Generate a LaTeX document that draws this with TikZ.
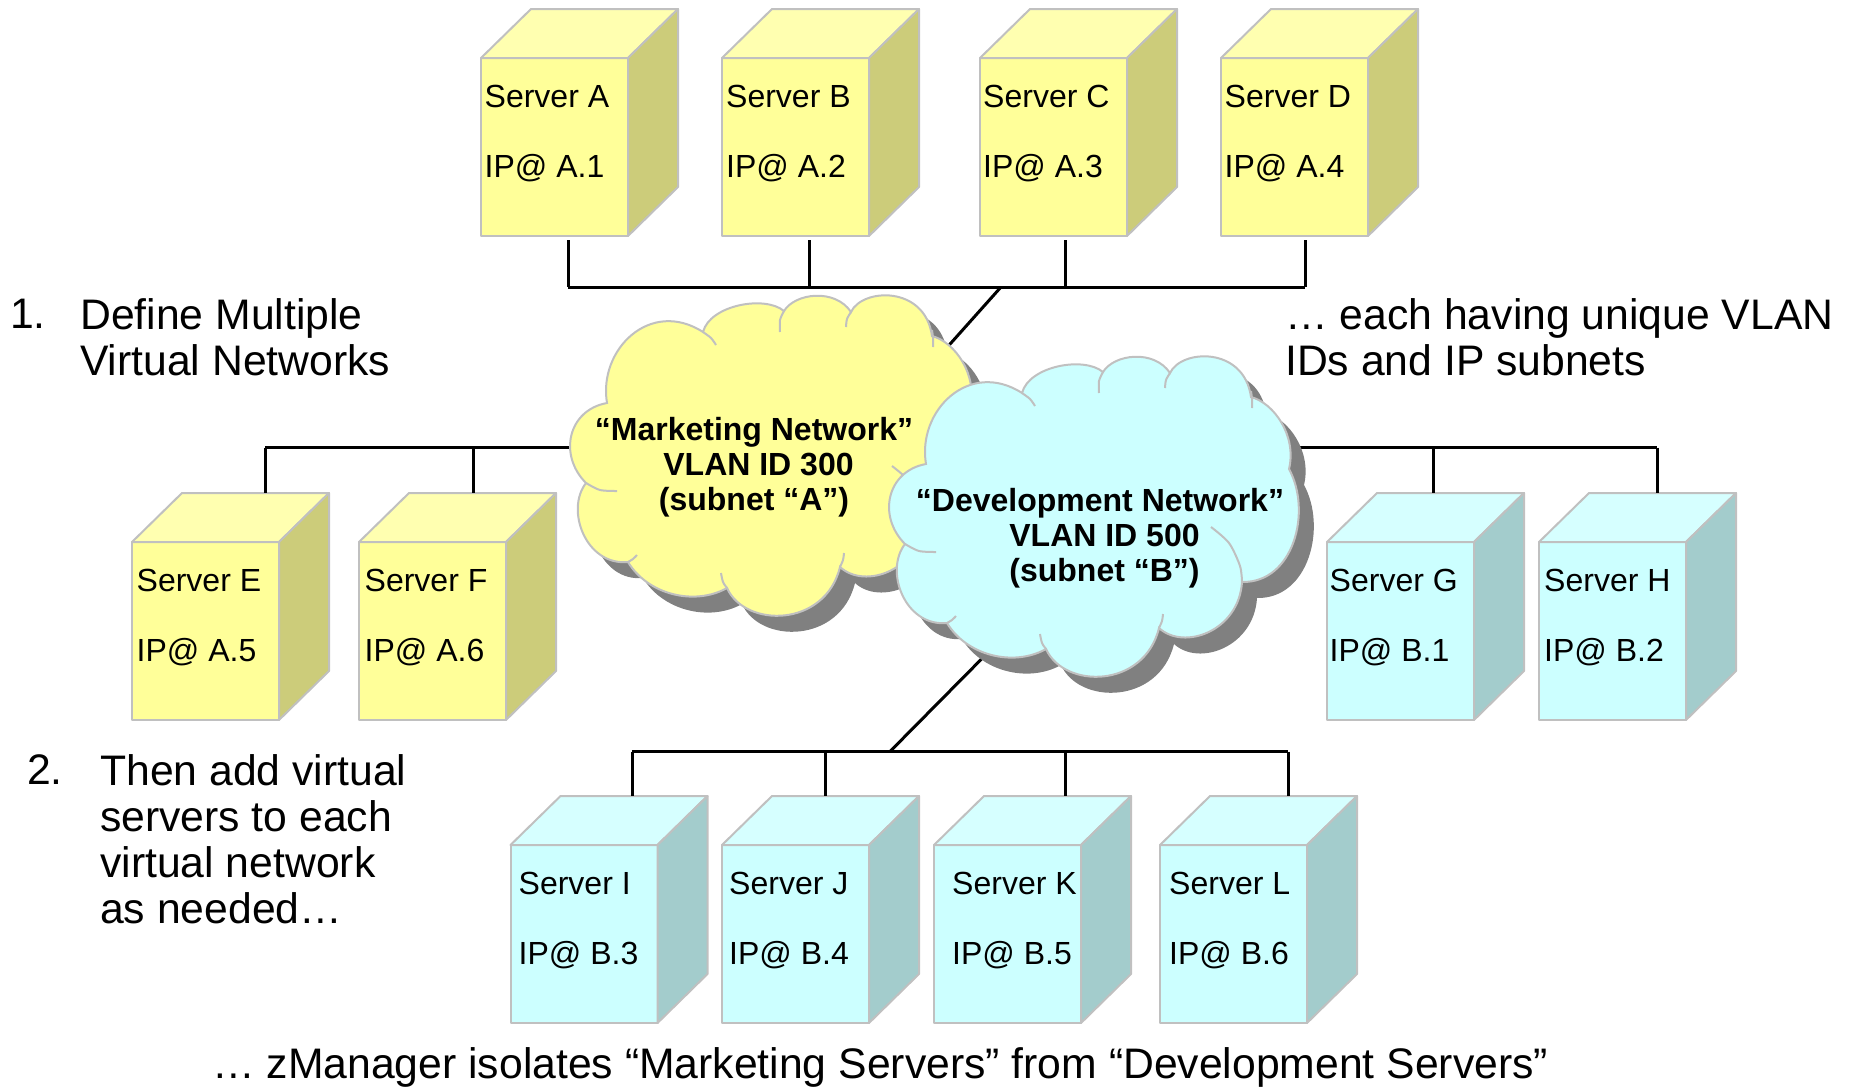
\documentclass[tikz,border=0pt]{standalone}
\usepackage{fontspec}
\setmainfont{Liberation Sans}
\usepackage{tikz}

\definecolor{yellowfront}{HTML}{FFFF99}
\definecolor{yellowtop}{HTML}{FFFFB0}
\definecolor{yellowside}{HTML}{CCCC7A}
\definecolor{cyanfront}{HTML}{CCFFFF}
\definecolor{cyantop}{HTML}{D6FFFF}
\definecolor{cyanside}{HTML}{A3CCCC}
\definecolor{edgegray}{HTML}{C0C0C0}
\definecolor{shadowgray}{HTML}{808080}

\tikzset{
    serveredge/.style={draw=edgegray, line width=2pt, line join=round},
    serverfront/.style={serveredge, anchor=north west, inner sep=0pt, outer sep=0pt,
        minimum width=147pt, minimum height=178pt},
    servertext/.style={anchor=base west, inner sep=0pt, font=\fontsize{32}{35}\selectfont},
    bus/.style={black, line width=3pt},
    cloudedge/.style={draw=edgegray, line width=2pt},
    cloudtext/.style={align=center, inner sep=0pt, font=\fontsize{32}{35}\selectfont\bfseries},
    bigtext/.style={anchor=north west, align=left, inner sep=0pt, font=\fontsize{42.7}{46}\selectfont},
}

% name, colour, x, y, text offset, address
\newcommand{\serverbox}[6]{
    \node[serverfront, fill=#2front] (server#1) at (#3,#4) {};
    \draw[serveredge, fill=#2top] (server#1.north west) -- ++(50,-49) -- ++(147,0) -- (server#1.north east) -- cycle;
    \draw[serveredge, fill=#2side] (server#1.north east) -- ++(50,-49) -- ++(0,178) -- (server#1.south east) -- cycle;
    \path (server#1.north west) ++(50,-49) coordinate (server#1back);
    \node[servertext] (server#1name) at ([shift={(#5,49.5)}]server#1.north west) {Server #1};
    \node[servertext] (server#1addr) at ([shift={(#5,119.5)}]server#1.north west) {IP@ #6};
}

\newcommand{\cloudoutline}{
    (67,133) .. controls (58,80) and (110,28) .. (163,62)
    .. controls (170,35) and (225,25) .. (244,41)
    .. controls (255,23) and (295,18) .. (311,42)
    .. controls (322,18) and (385,15) .. (392,66)
    .. controls (415,72) and (438,105) .. (430,138)
    .. controls (453,180) and (435,252) .. (383,251)
    .. controls (380,300) and (325,320) .. (300,297)
    .. controls (285,358) and (205,358) .. (187,318)
    .. controls (155,336) and (108,325) .. (88,292)
    .. controls (46,296) and (25,240) .. (46,213)
    .. controls (18,185) and (28,140) .. (67,133)
    -- cycle
}

% colour, x, y
\newcommand{\netcloud}[3]{
    \fill[shadowgray, shift={(#2+15,#3+16)}] \cloudoutline;
    \path[cloudedge, fill=#1, shift={(#2,#3)}] \cloudoutline;
    \begin{scope}[shift={(#2,#3)}]
        \draw[cloudedge] plot[smooth] coordinates {(163,62) (171,68) (176,75)};
        \draw[cloudedge] plot[smooth] coordinates {(244,41) (240,50) (240,62)};
        \draw[cloudedge] plot[smooth] coordinates {(311,42) (307,49) (306,57)};
        \draw[cloudedge] plot[smooth] coordinates {(392,60) (393,68) (393,77)};
        \draw[cloudedge] plot[smooth] coordinates {(46,213) (60,220) (77,221)};
        \draw[cloudedge] plot[smooth] coordinates {(88,292) (93,289) (97,285)};
        \draw[cloudedge] plot[smooth] coordinates {(187,318) (183,312) (181,303)};
        \draw[cloudedge] plot[smooth] coordinates {(300,297) (303,290) (304,283)};
        \draw[cloudedge] plot[smooth] coordinates {(352,196) (370,212) (381,235) (383,251)};
    \end{scope}
}

\begin{document}
\begin{tikzpicture}[x=1pt, y=-1pt]
\useasboundingbox (0,0) rectangle (1853,1087);

\serverbox{A}{yellow}{481}{58}{3.5}{A.1}
\serverbox{B}{yellow}{722}{58}{4}{A.2}
\serverbox{C}{yellow}{980}{58}{3}{A.3}
\serverbox{D}{yellow}{1221}{58}{3.5}{A.4}

\serverbox{E}{yellow}{132}{542}{4.5}{A.5}
\serverbox{F}{yellow}{359}{542}{5.5}{A.6}
\serverbox{G}{cyan}{1327}{542}{2.5}{B.1}
\serverbox{H}{cyan}{1539}{542}{5}{B.2}

\serverbox{I}{cyan}{510.5}{845}{8}{B.3}
\serverbox{J}{cyan}{722}{845}{7}{B.4}
\serverbox{K}{cyan}{934}{845}{18}{B.5}
\serverbox{L}{cyan}{1160}{845}{9}{B.6}

% top bus
\coordinate (tapA) at (568,287);
\coordinate (tapB) at (809,287);
\coordinate (tapC) at (1065,287);
\coordinate (tapD) at (1305,287);
\coordinate (topdrop) at (1001,287);
\coordinate (marketingtop) at (901,399);
\draw[bus] (tapA) -- (tapD);
\draw[bus, shorten <=4pt] (serverA.south -| tapA) -- (tapA);
\draw[bus, shorten <=4pt] (serverB.south -| tapB) -- (tapB);
\draw[bus, shorten <=4pt] (serverC.south -| tapC) -- (tapC);
\draw[bus, shorten <=4pt] (serverD.south -| tapD) -- (tapD);
\draw[bus] (topdrop) -- (marketingtop);

% side buses
\coordinate (tapE) at (265,447.5);
\coordinate (tapF) at (473,447.5);
\coordinate (marketingleft) at (620,447.5);
\draw[bus] (tapE) -- (marketingleft);
\draw[bus] (tapE) -- (tapE |- serverEback);
\draw[bus] (tapF) -- (tapF |- serverFback);

\coordinate (tapG) at (1433,447.5);
\coordinate (tapH) at (1657,447.5);
\coordinate (developmentright) at (1250,447.5);
\draw[bus] (developmentright) -- (tapH);
\draw[bus] (tapG) -- (tapG |- serverGback);
\draw[bus] (tapH) -- (tapH |- serverHback);

% bottom bus
\coordinate (tapI) at (632,751.5);
\coordinate (tapJ) at (825,751.5);
\coordinate (tapK) at (1065,751.5);
\coordinate (tapL) at (1288,751.5);
\coordinate (bottomdrop) at (890,751.5);
\coordinate (developmentbottom) at (1030,610);
\draw[bus] (tapI) -- (tapL);
\draw[bus] (tapI) -- (tapI |- serverIback);
\draw[bus] (tapJ) -- (tapJ |- serverJback);
\draw[bus] (tapK) -- (tapK |- serverKback);
\draw[bus] (tapL) -- (tapL |- serverLback);
\draw[bus] (bottomdrop) -- (developmentbottom);

\netcloud{yellowfront}{540}{270}
\netcloud{cyanfront}{859}{331}

\node[cloudtext] (marketing) at (754,467.5) {“Marketing Network”\\\hspace{9pt}VLAN ID 300\\(subnet “A”)};
\node[cloudtext] (development) at (1100,538.5) {“Development Network”\\\hspace{9pt}VLAN ID 500\\\hspace{9pt}(subnet “B”)};

\node[bigtext] (stepone) at (10,298.5) {1.};
\node[bigtext] (steponetext) at (80,298.5) {Define Multiple\\Virtual Networks};
\node[bigtext] (unique) at (1285,298.5) {… each having unique VLAN\\IDs and IP subnets};
\node[bigtext] (steptwo) at (27,754.5) {2.};
\node[bigtext] (steptwotext) at (100,754.5) {Then add virtual\\servers to each\\virtual network\\as needed…};
\node[bigtext] (isolates) at (212,1047) {… zManager isolates “Marketing Servers” from “Development Servers”};

\end{tikzpicture}
\end{document}
